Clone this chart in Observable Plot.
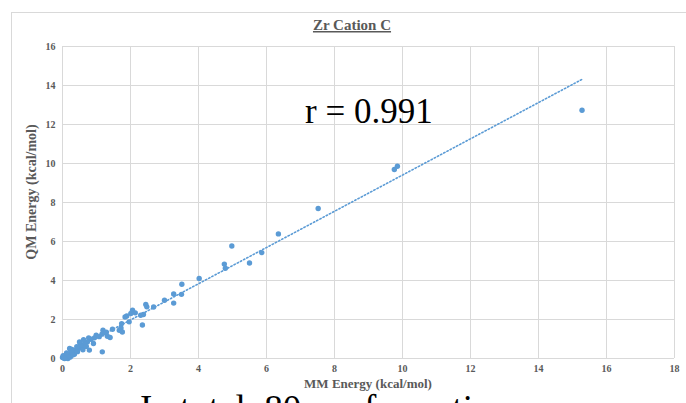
<!DOCTYPE html>
<html><head><meta charset="utf-8">
<script src="https://cdn.jsdelivr.net/npm/d3@7"></script>
<script src="https://cdn.jsdelivr.net/npm/@observablehq/plot@0.6"></script>
<style>body{margin:0;background:#fff;overflow:hidden}</style>
</head><body><div id="chart"></div>
<script>
const mmEnergy = [15.28, 9.76, 9.85, 7.52, 6.35, 4.98, 5.86, 5.50, 4.76, 4.79,
  4.02, 3.51, 3.27, 3.50, 3.27, 3.00, 2.68, 2.45, 2.48, 2.38,
  2.30, 2.35, 2.06, 2.14, 2.01, 1.89, 1.84, 1.96, 1.74, 1.72,
  1.47, 1.67, 1.76, 1.29, 1.19, 1.32, 1.40, 1.24, 1.16, 1.17,
  0.99, 0.94, 0.84, 0.77, 0.73, 0.65, 0.79, 0.57, 0.52, 0.47,
  0.39, 0.32, 0.26, 0.18, 0.11, 0.03, 0.00, 0.23, 0.16, 0.35,
  0.62, 0.50, 0.42, 0.28, 0.21, 0.91, 1.08, 0.05, 0.08, 0.14,
  0.10, 0.20, 0.30, 0.02, 0.44, 0.60, 0.70, 0.12, 0.06, 0.25];
const qmEnergy = [12.73, 9.69, 9.86, 7.69, 6.39, 5.77, 5.43, 4.90, 4.84, 4.63,
  4.10, 3.81, 3.31, 3.29, 2.84, 2.99, 2.64, 2.77, 2.65, 2.26,
  2.22, 1.72, 2.48, 2.34, 2.31, 2.18, 2.13, 1.88, 1.79, 1.57,
  1.50, 1.45, 1.36, 1.35, 1.45, 1.14, 1.08, 1.33, 1.25, 0.34,
  1.19, 1.06, 0.99, 1.06, 0.85, 0.77, 0.43, 0.60, 0.68, 0.51,
  0.43, 0.34, 0.29, 0.21, 0.17, 0.08, 0.05, 0.08, 0.00, 0.22,
  0.97, 0.85, 0.60, 0.46, 0.51, 0.77, 1.12, 0.02, 0.12, 0.08,
  0.03, 0.14, 0.18, 0.15, 0.35, 0.45, 0.62, 0.28, 0.00, 0.40];
const xTicks = [0, 2, 4, 6, 8, 10, 12, 14, 16, 18];
const yTicks = [0, 2, 4, 6, 8, 10, 12, 14, 16];
const titleText = "Zr Cation C";
const xLabel = "MM Energy (kcal/mol)";
const yLabel = "QM Energy (kcal/mol)";
const rText = "r = 0.991";
const footText = "In total, 80 conformations";

const data = mmEnergy.map((x, i) => ({x, y: qmEnergy[i]}));
const blue = "#5b9bd5";
const grey = "#595959";

const chart = Plot.plot({
  width: 686, height: 403,
  marginLeft: 62, marginRight: 12, marginTop: 46, marginBottom: 45,
  style: {fontFamily: "'Liberation Serif', 'Times New Roman', serif", background: "#fff", overflow: "hidden"},
  x: {domain: [0, 18]},
  y: {domain: [0, 16]},
  marks: [
    Plot.gridX(xTicks, {stroke: "#d9d9d9", strokeOpacity: 1}),
    Plot.gridY(yTicks, {stroke: "#d9d9d9", strokeOpacity: 1}),
    Plot.axisX(xTicks, {tickSize: 0, tickPadding: 6, fontSize: 10, fontWeight: "bold", fill: grey, label: null}),
    Plot.axisY(yTicks, {tickSize: 0, tickPadding: 7, fontSize: 10, fontWeight: "bold", fill: grey, label: null}),
    Plot.linearRegressionY(data, {x: "x", y: "y", stroke: blue, strokeWidth: 1.6, strokeDasharray: "1.4,2.2", ci: 0}),
    Plot.dot(data, {x: "x", y: "y", r: 2.7, fill: blue, stroke: "none"})
  ]
});
document.getElementById("chart").appendChild(chart);

const svg = d3.select(chart);
svg.insert("rect", ":first-child")
  .attr("x", 11.5).attr("y", 12.5).attr("width", 700).attr("height", 420)
  .attr("fill", "none").attr("stroke", "#d9d9d9");
const font = "'Liberation Serif', 'Times New Roman', serif";
svg.append("text").text(titleText)
  .attr("x", 352).attr("y", 30).attr("text-anchor", "middle")
  .attr("font-family", font).attr("font-size", 15).attr("font-weight", "bold")
  .attr("fill", grey).style("text-decoration", "underline");
svg.append("text").text(xLabel)
  .attr("x", 368).attr("y", 388).attr("text-anchor", "middle")
  .attr("font-family", font).attr("font-size", 13).attr("font-weight", "bold").attr("fill", grey);
svg.append("text").text(yLabel)
  .attr("transform", "translate(36,192) rotate(-90)").attr("text-anchor", "middle")
  .attr("font-family", font).attr("font-size", 14).attr("font-weight", "bold").attr("fill", grey);
svg.append("text").text(rText)
  .attr("x", 305).attr("y", 123).attr("text-anchor", "start")
  .attr("font-family", font).attr("font-size", 35).attr("fill", "#000");
svg.append("text").text(footText)
  .attr("x", 140).attr("y", 421).attr("text-anchor", "start")
  .attr("font-family", font).attr("font-size", 37).attr("fill", "#000");
</script>
</body></html>
